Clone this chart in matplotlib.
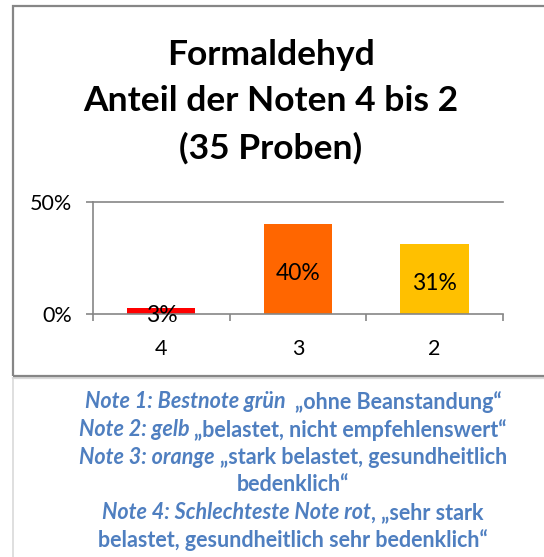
import matplotlib
matplotlib.use("Agg")
import matplotlib.pyplot as plt
from matplotlib.patches import Rectangle
from matplotlib.lines import Line2D

plt.rcParams['font.family'] = ['Lato', 'DejaVu Sans']

# data
noten = ['4', '3', '2']
anteil = [2.9, 40.0, 31.4]
anteil_labels = ['3%', '40%', '31%']
farben = ['#FF0000', '#FF6600', '#FFC000']
y_ticks = [0, 50]
y_labels = ['0%', '50%']

titel_zeilen = ['Formaldehyd', 'Anteil der Noten 4 bis 2', '(35 Proben)']

# legend text: (italic part, regular part)
notiz_zeilen = [
    ('Note 1: Bestnote grün  ', '„ohne Beanstandung“'),
    ('Note 2: gelb ', '„belastet, nicht empfehlenswert“'),
    ('Note 3: orange ', '„stark belastet, gesundheitlich'),
    ('', 'bedenklich“'),
    ('Note 4: Schlechteste Note rot', ', „sehr stark'),
    ('', 'belastet, gesundheitlich sehr bedenklich“'),
]

W, H = 544, 557
fig = plt.figure(figsize=(W / 100, H / 100), dpi=100)

def px(x, y):
    return x / W, 1 - y / H

grau = '#868686'
blau = '#4F7FC0'

# frame of the chart
x0, y0 = px(13, 376)
fig.patches.append(Rectangle((x0, y0), 1.2, (376 - 6) / H, transform=fig.transFigure,
                             fill=False, edgecolor=grau, linewidth=1.6, zorder=5))
fig.lines.append(Line2D([13 / W, 1], [1 - 378 / H] * 2, transform=fig.transFigure,
                        color='#D9D9D9', linewidth=1.6))
fig.lines.append(Line2D([13 / W] * 2, [0, 1 - 378 / H], transform=fig.transFigure,
                        color='#D9D9D9', linewidth=1.2))

for zeile, yb in zip(titel_zeilen, [65, 111, 159]):
    fig.text(*px(271, yb), zeile, ha='center', va='baseline', fontsize=25.5,
             fontweight='bold')

ax = fig.add_axes([93 / W, 1 - 314 / H, (503 - 93) / W, (314 - 202) / H])
pos = range(len(noten))
ax.bar(pos, anteil, width=0.5, color=farben, zorder=2)
for i, v in enumerate(anteil):
    ax.text(i, v / 2 - 2, anteil_labels[i], ha='center', va='center', fontsize=16.5)

ax.set_xlim(-0.5, 2.5)
ax.set_ylim(0, 50)
ax.set_yticks(y_ticks)
ax.set_yticklabels(y_labels, fontsize=15.5)
ax.set_xticks([-0.5, 0.5, 1.5, 2.5])
ax.set_xticklabels([])
ax.set_xticks(list(pos), minor=True)
ax.set_xticklabels(noten, minor=True, fontsize=15.5)
ax.tick_params(axis='x', which='minor', length=0, pad=18)
ax.tick_params(axis='both', which='major', length=5, color=grau, width=1.2)
ax.tick_params(axis='y', pad=10)
ax.axhline(50, color=grau, linewidth=1.2, zorder=1, clip_on=False)
for s in ['top', 'right']:
    ax.spines[s].set_visible(False)
for s in ['left', 'bottom']:
    ax.spines[s].set_color(grau)
    ax.spines[s].set_linewidth(1.2)
ax.set_facecolor('none')

# notes below the chart, italic and regular parts in one centred line
renderer = fig.canvas.get_renderer()
mitte = 293
y = 402
for kursiv, normal in notiz_zeilen:
    t1 = fig.text(0, 0, kursiv, fontsize=15.5, fontweight='bold', style='italic', color=blau)
    t2 = fig.text(0, 0, normal, fontsize=15.5, fontweight='bold', color=blau)
    w1 = t1.get_window_extent(renderer).width if kursiv else 0
    w2 = t2.get_window_extent(renderer).width
    start = mitte - (w1 + w2) / 2
    t1.set_position(px(start, y))
    t1.set_va('center')
    t2.set_position(px(start + w1, y))
    t2.set_va('center')
    y += 27.6

fig.savefig('out.png', dpi=100)
